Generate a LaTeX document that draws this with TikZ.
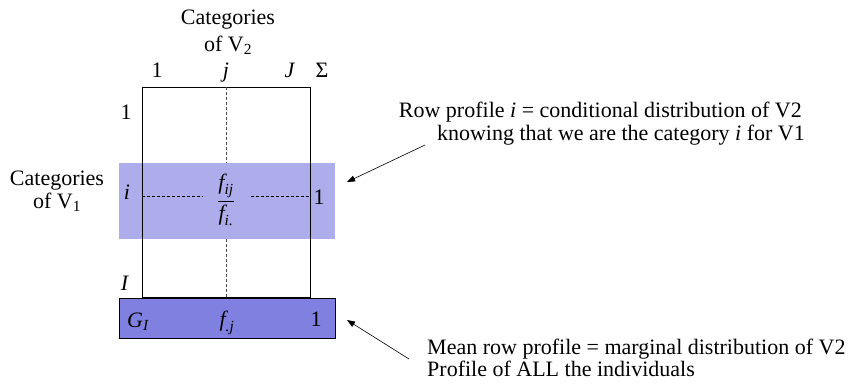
\documentclass[tikz,border=0pt]{standalone}
\usepackage{amsmath}
\usepackage{fontspec}
\setmainfont{Liberation Serif}
\usetikzlibrary{arrows.meta}
\definecolor{lightband}{RGB}{173,173,235}
\definecolor{darkband}{RGB}{128,128,224}
\begin{document}
\begin{tikzpicture}[x=1pt,y=-1pt,
  lbl/.style={inner sep=0pt,anchor=base,font=\fontsize{22}{24}\selectfont},
  ptr/.style={-{Triangle[length=8pt,width=6pt]},line width=0.6pt},
  dsh/.style={dash pattern=on 3pt off 2pt,line width=0.6pt}]
\useasboundingbox (0,0) rectangle (854,383);
% bands
\fill[lightband] (119,163) rectangle (335,239);
\draw[fill=darkband,line width=0.6pt] (119,298) rectangle (335,338);
% main table
\draw[line width=0.6pt] (142,87) rectangle (310,297);
\coordinate (vt) at (226,87);
\coordinate (vm1) at (226,163);
\coordinate (vm2) at (226,239);
\coordinate (vb) at (226,297);
\coordinate (hl) at (142,196);
\coordinate (hm1) at (203,196);
\coordinate (hm2) at (251,196);
\coordinate (hr) at (310,196);
\draw[dsh,gray!60!black] (vt) -- (vm1);
\draw[dsh,gray!60!black] (vm2) -- (vb);
\draw[dsh] (hl) -- (hm1);
\draw[dsh] (hm2) -- (hr);
% fraction
\node[lbl,anchor=center] (frac) at (226,200) {$\displaystyle\frac{\textit{f}_{\textit{ij}}}{\textit{f}_{\textit{i.}}}$};
\node[lbl] (one) at (319,204) {1};
\node[lbl] (irow) at (127,199) {\textit{i}};
% top labels
\node[lbl] (cat2) at (228,24) {Categories};
\node[lbl] (of2) at (228,51) {of V\textsubscript{2}};
\node[lbl] (c1) at (157,77) {1};
\node[lbl] (cj) at (226,77) {\textit{j}};
\node[lbl] (cJ) at (290,77) {\textit{J}};
\node[lbl] (cS) at (322,77) {Σ};
\node[lbl] (r1) at (126,119) {1};
\node[lbl] (rI) at (125,290) {\textit{I}};
\node[lbl] (cat1) at (57,185) {Categories};
\node[lbl] (of1) at (57,208) {of V\textsubscript{1}};
% bottom band
\node[lbl] (gi) at (138,327) {$\textit{G}_{\textit{I}}$};
\node[lbl] (fj) at (227,326) {$\textit{f}_{\textit{.j}}$};
\node[lbl] (one2) at (316,326) {1};
% right texts
\node[lbl,anchor=base east] (t1a) at (802,117) {Row profile \textit{i} = conditional distribution of V2};
\node[lbl,anchor=base east] (t1b) at (805,140) {knowing that we are the category \textit{i} for V1};
\node[lbl,anchor=base west] (t2a) at (427,354) {Mean row profile = marginal distribution of V2};
\node[lbl,anchor=base west] (t2b) at (427,376) {Profile of ALL the individuals};
\coordinate (a1) at (347,182);
\coordinate (a1s) at (425,145);
\coordinate (a2) at (347,320);
\coordinate (a2s) at (409,359);
\draw[ptr] (a1s) -- (a1);
\draw[ptr] (a2s) -- (a2);
\end{tikzpicture}
\end{document}
